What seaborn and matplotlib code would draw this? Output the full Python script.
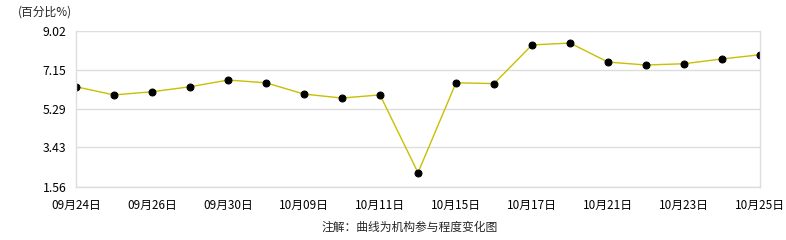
import matplotlib
matplotlib.use("Agg")
import matplotlib.pyplot as plt
import seaborn as sns
import pandas as pd

dates = ["09月24日", "09月25日", "09月26日", "09月27日", "09月30日", "10月08日", "10月09日",
         "10月10日", "10月11日", "10月14日", "10月15日", "10月16日", "10月17日", "10月18日",
         "10月21日", "10月22日", "10月23日", "10月24日", "10月25日"]
values = [6.33, 5.94, 6.09, 6.33, 6.65, 6.52, 5.98, 5.79, 5.94, 2.22, 6.52, 6.48,
          8.33, 8.42, 7.51, 7.37, 7.43, 7.66, 7.86]
yticks = [1.56, 3.43, 5.29, 7.15, 9.02]

sns.set_theme(style="white")
plt.rcParams['font.family'] = ['Noto Sans CJK SC', 'DejaVu Sans']

df = pd.DataFrame({"x": range(len(dates)), "v": values})

fig = plt.figure(figsize=(7.86, 2.4), dpi=100)
ax = fig.add_axes([76/786, (240-186.5)/240, (760-76)/786, 156/240])

sns.lineplot(data=df, x="x", y="v", ax=ax, color="#c8c000", linewidth=1.0,
             marker="o", markersize=5, markerfacecolor="black", markeredgecolor="black")

ax.set_xlim(0, len(dates)-1)
ax.set_ylim(yticks[0], yticks[-1])
ax.set_yticks(yticks)
ax.set_yticklabels([f"{t:.2f}" for t in yticks], fontsize=8.8)
ax.set_xticks(range(len(dates)))
ax.set_xticklabels([d if i % 2 == 0 else "" for i, d in enumerate(dates)], fontsize=8.5)
ax.yaxis.grid(True, color="#dddddd", linewidth=1)
ax.xaxis.grid(False)
ax.tick_params(axis="both", length=5, width=1, color="#dddddd", pad=2, labelcolor="black")
ax.tick_params(axis="x", direction="out", length=8, pad=1)
for s in ["left", "right", "bottom"]:
    ax.spines[s].set_color("#dddddd")
    ax.spines[s].set_linewidth(1)
ax.spines["top"].set_visible(False)
ax.set_xlabel("")
ax.set_ylabel("")

fig.text(18/786, 1-12/240, "(百分比%)", fontsize=8.5, va="center", ha="left")
fig.text(410/786, 1-227/240, "注解：曲线为机构参与程度变化图", fontsize=8.5, va="center", ha="center")

fig.savefig("out.png", dpi=100)
